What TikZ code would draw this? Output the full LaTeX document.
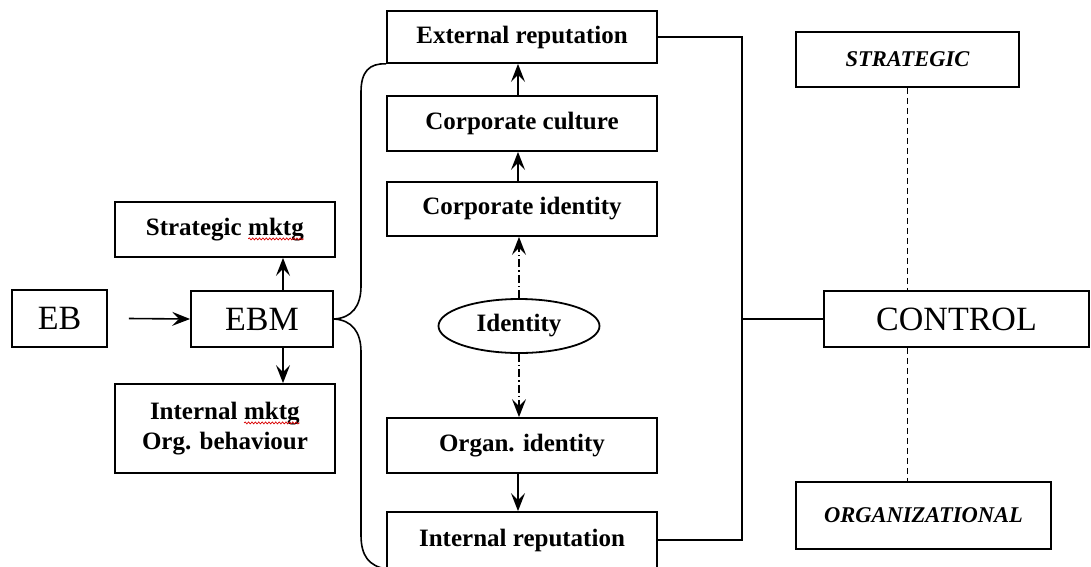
\documentclass[tikz,border=0pt]{standalone}
\usepackage{fontspec}
\setmainfont{Liberation Serif}
\usetikzlibrary{arrows.meta,shapes.geometric,decorations.pathmorphing}

% red wavy spell-check line under a word
\newcommand\spellmark[1]{\tikz[baseline=(w.base)]{%
  \node[rectangle,inner sep=0pt,outer sep=0pt,draw=none,
        minimum width=0pt,minimum height=0pt,anchor=base](w){#1};%
  \draw[red!85!black,line width=0.7pt,decorate,
        decoration={snake,amplitude=1pt,segment length=3.4pt}]
        ([yshift=-3.5pt]w.base west) -- ([yshift=-3.5pt]w.base east);}}

\tikzset{
  box/.style={draw,line width=1.8pt,rectangle,inner sep=0pt,align=center,
              font=\fontsize{25}{30}\selectfont\bfseries},
  bigbox/.style={box,font=\fontsize{34}{40}\selectfont},
  levelbox/.style={box,font=\fontsize{22.5}{27}\selectfont\bfseries\itshape},
  oval/.style={draw,line width=1.8pt,ellipse,inner sep=0pt,
               font=\fontsize{25}{30}\selectfont\bfseries},
  link/.style={line width=1.6pt},
  arr/.style={link,-{Stealth[length=18pt,width=14pt,inset=7pt]}},
  dashdot/.style={arr,dash pattern=on 8pt off 3pt on 1.5pt off 3pt},
  guide/.style={line width=1.6pt,dash pattern=on 6pt off 4pt},
}

\begin{document}
\begin{tikzpicture}[x=1pt,y=-1pt]
\useasboundingbox[fill=white] (0,0) rectangle (1091,566);
\clip (0,0) rectangle (1091,566);

% left column
\node[bigbox,minimum width=95pt,minimum height=57pt]  (eb)  at (59.5,318.5) {EB};
\node[bigbox,minimum width=142pt,minimum height=56pt] (ebm) at (262,319) {EBM};
\node[box,minimum width=220pt,minimum height=55pt]    (smk) at (225,229.5) {Strategic \spellmark{mktg}};
\node[box,minimum width=220pt,minimum height=89pt]    (imk) at (225,428.5) {Internal \spellmark{mktg}\\Org. behaviour};

% middle column
\node[box,minimum width=270pt,minimum height=52pt] (ext) at (522,37)    {External reputation};
\node[box,minimum width=270pt,minimum height=55pt] (cc)  at (522,123.5) {Corporate culture};
\node[box,minimum width=270pt,minimum height=54pt] (ci)  at (522,209)   {Corporate identity};
\node[oval,minimum width=161pt,minimum height=54pt] (id) at (519,326)   {Identity};
\node[box,minimum width=270pt,minimum height=55pt] (oi)  at (522,445.5) {Organ. identity};
\node[box,minimum width=270pt,minimum height=56pt] (ir)  at (522,540)   {Internal reputation};

% right column
\node[levelbox,minimum width=223pt,minimum height=55pt] (str) at (907.5,59.5) {STRATEGIC};
\node[bigbox,minimum width=265pt,minimum height=56pt]   (ctl) at (956.5,319)  {CONTROL};
\node[levelbox,minimum width=255pt,minimum height=67pt] (org) at (923.5,515.5) {ORGANIZATIONAL};

\coordinate (railtop) at (742,37);
\coordinate (railbot) at (742,540);

% left connectors
\draw[arr] ([xshift=21pt]eb.east) -- (ebm.west);
\draw[arr] ([xshift=21pt]ebm.north) -- ([xshift=58pt]smk.south);
\draw[arr] ([xshift=21pt]ebm.south) -- ([xshift=58pt]imk.north);

% brace from EBM to the reputation column
\draw[link] (ebm.east) .. controls (352,318) and (361,306) .. (361,286)
            -- (361,92) .. controls (361,72) and (369,63) .. (ext.south west);
\draw[link] (ebm.east) .. controls (352,320) and (361,332) .. (361,352)
            -- (361,535) .. controls (361,556) and (369,566) .. (ir.south west);

% middle chain
\draw[arr] ([xshift=-4pt]cc.north) -- ([xshift=-4pt]ext.south);
\draw[arr] ([xshift=-4pt]ci.north) -- ([xshift=-4pt]cc.south);
\draw[dashdot] (id.north) -- (id.north |- ci.south);
\draw[dashdot] (id.south) -- (id.south |- oi.north);
\draw[arr] ([xshift=-4pt]oi.south) -- ([xshift=-4pt]ir.north);

% rail to CONTROL
\draw[link] (ext.east) -- (railtop) -- (railbot) -- (ir.east);
\draw[link] (ctl.west) -- (ctl.west -| railtop);

% control levels
\draw[guide] (str.south) -- (str.south |- ctl.north);
\draw[guide] (ctl.south -| str.south) -- (org.north -| str.south);
\end{tikzpicture}
\end{document}
